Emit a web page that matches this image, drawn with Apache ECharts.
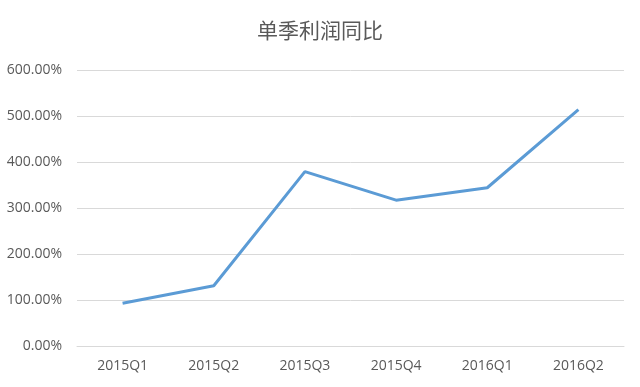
<!DOCTYPE html>
<html>
<head>
<meta charset="utf-8">
<script src="https://cdn.jsdelivr.net/npm/echarts@6/dist/echarts.min.js"></script>
<style>html,body{margin:0;padding:0;background:#fff}#c{width:640px;height:387px}</style>
</head>
<body>
<div id="c"></div>
<script>
var categories = ['2015Q1', '2015Q2', '2015Q3', '2015Q4', '2016Q1', '2016Q2'];
var values = [93, 131, 379, 317, 344, 514];
var titleText = '单季利润同比';

var chart = echarts.init(document.getElementById('c'));
chart.setOption({
  animation: false,
  backgroundColor: '#fff',
  title: {
    text: titleText,
    left: 'center',
    top: 15,
    textStyle: { fontFamily: 'Noto Sans CJK SC', fontSize: 21, fontWeight: 'normal', color: '#595959' }
  },
  grid: { left: 77, right: 16, top: 70, bottom: 41, containLabel: false },
  xAxis: {
    type: 'category',
    data: categories,
    boundaryGap: true,
    axisLine: { lineStyle: { color: '#d9d9d9', width: 1 } },
    axisTick: { show: false },
    axisLabel: { color: '#595959', fontSize: 14, fontFamily: 'Open Sans', margin: 13 }
  },
  yAxis: {
    type: 'value',
    min: 0, max: 600, interval: 100,
    axisLine: { show: false },
    axisTick: { show: false },
    splitLine: { lineStyle: { color: '#d9d9d9', width: 1 } },
    axisLabel: {
      color: '#595959', fontSize: 14, fontFamily: 'Open Sans', margin: 15,
      formatter: function (v) { return v.toFixed(2) + '%'; }
    }
  },
  series: [{
    type: 'line',
    data: values,
    symbol: 'none',
    lineStyle: { color: '#5b9bd5', width: 3 },
    itemStyle: { color: '#5b9bd5' }
  }]
});
</script>
</body>
</html>
